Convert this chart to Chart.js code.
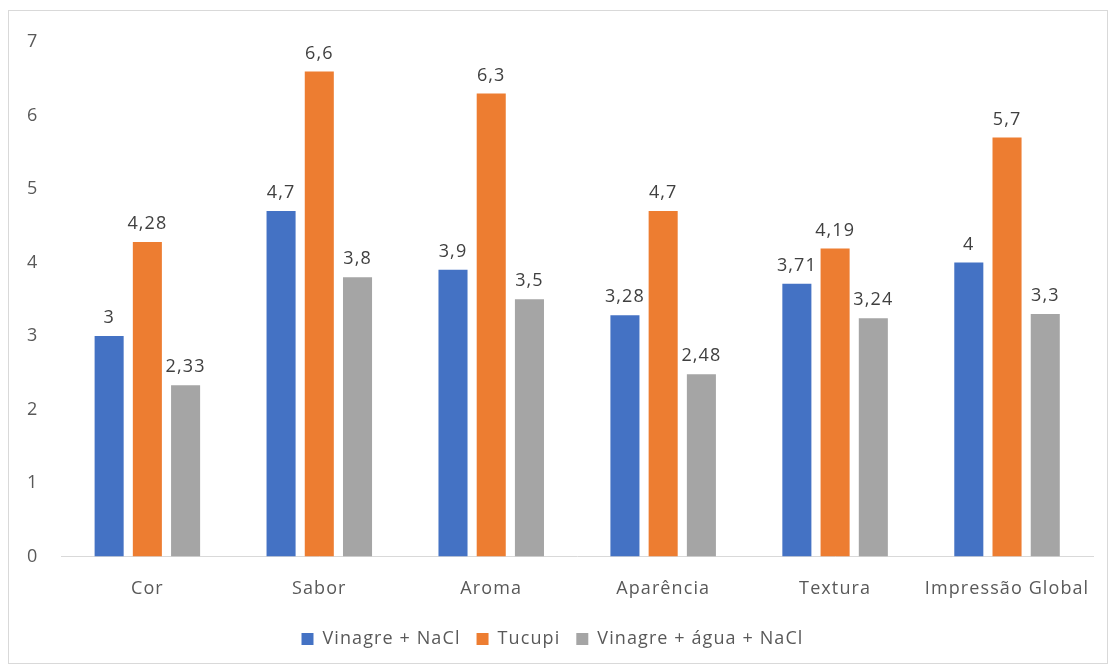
<!DOCTYPE html>
<html>
<head>
<meta charset="utf-8">
<script src="https://cdn.jsdelivr.net/npm/chart.js@4"></script>
<style>
  html, body { margin: 0; padding: 0; background: #fff; }
  #box { position: absolute; left: 8px; top: 10px; width: 1100px; height: 654px; border: 1px solid #d9d9d9; box-sizing: border-box; }
</style>
</head>
<body>
<div id="box"><canvas id="myChart"></canvas></div>
<script>
var categories = ['Cor', 'Sabor', 'Aroma', 'Aparência', 'Textura', 'Impressão Global'];
var vinagreNaCl = [3, 4.7, 3.9, 3.28, 3.71, 4];
var tucupi = [4.28, 6.6, 6.3, 4.7, 4.19, 5.7];
var vinagreAguaNaCl = [2.33, 3.8, 3.5, 2.48, 3.24, 3.3];

var FONT = '"Open Sans", Lato, sans-serif';
Chart.defaults.font.family = FONT;
Chart.defaults.font.size = 18;
Chart.defaults.color = '#595959';

// wider letter spacing, like the original rendering
var spacing = {
    id: 'spacing',
    beforeLayout: function(chart) { chart.ctx.letterSpacing = '1.1px'; },
    beforeDraw: function(chart) { chart.ctx.letterSpacing = '1.1px'; }
};

// labels above the bars, with decimal comma
var barLabels = {
    id: 'barLabels',
    afterDatasetsDraw: function(chart) {
        var ctx = chart.ctx;
        ctx.save();
        ctx.font = '18px ' + FONT;
        ctx.fillStyle = '#404040';
        ctx.textAlign = 'center';
        ctx.textBaseline = 'bottom';
        chart.data.datasets.forEach(function(ds, i) {
            chart.getDatasetMeta(i).data.forEach(function(bar, j) {
                var txt = String(ds.data[j]).replace('.', ',');
                ctx.fillText(txt, bar.x, bar.y - 9);
            });
        });
        ctx.restore();
    }
};

var ctx = document.getElementById('myChart').getContext('2d');
var myChart = new Chart(ctx, {
    type: 'bar',
    data: {
        labels: categories,
        datasets: [{
            label: 'Vinagre + NaCl',
            data: vinagreNaCl,
            backgroundColor: '#4472C4'
        },
        {
            label: 'Tucupi',
            data: tucupi,
            backgroundColor: '#ED7D31'
        },
        {
            label: 'Vinagre + água + NaCl',
            data: vinagreAguaNaCl,
            backgroundColor: '#A5A5A5'
        }]
    },
    options: {
        responsive: true,
        maintainAspectRatio: false,
        animation: false,
        layout: { padding: { left: 3, right: 14, top: 31, bottom: 5 } },
        categoryPercentage: 0.667,
        barPercentage: 0.76,
        plugins: {
            legend: {
                position: 'bottom',
                labels: { boxWidth: 12, boxHeight: 12, padding: 16, color: '#595959' }
            },
            tooltip: { enabled: false }
        },
        scales: {
            y: {
                min: 0,
                max: 7,
                ticks: { stepSize: 1, padding: 15 },
                grid: { display: false },
                border: { display: false }
            },
            x: {
                grid: { display: false },
                border: { color: '#d9d9d9' },
                ticks: { padding: 14, maxRotation: 0, minRotation: 0, autoSkip: false }
            }
        }
    },
    plugins: [spacing, barLabels]
});
</script>
</body>
</html>
